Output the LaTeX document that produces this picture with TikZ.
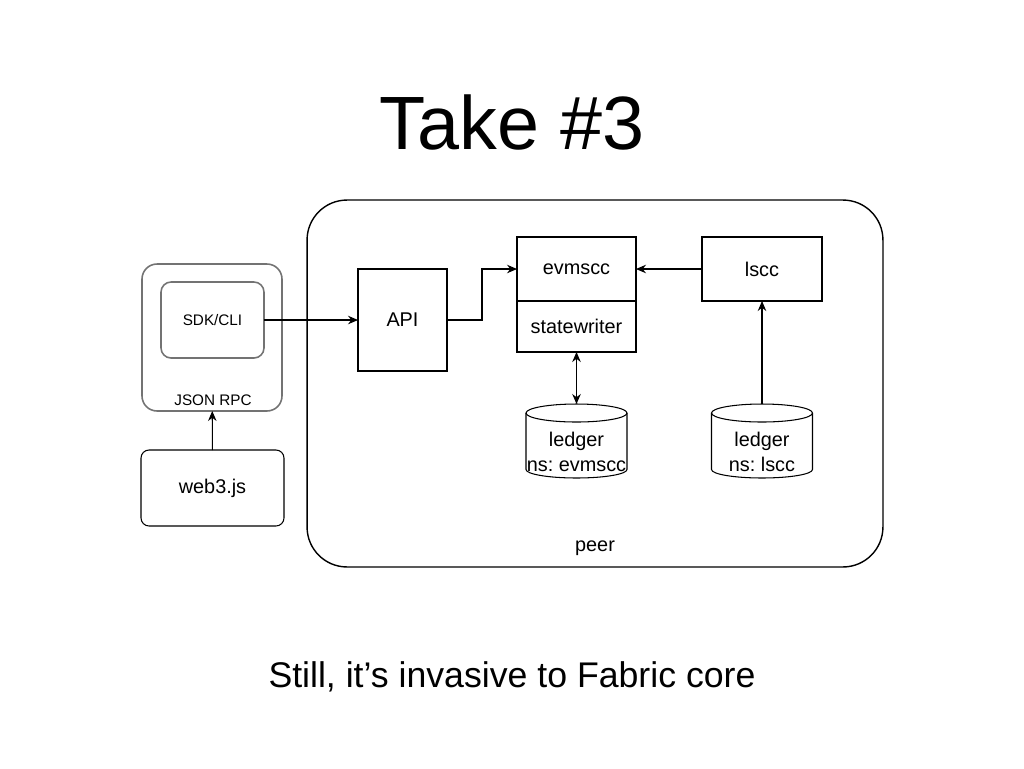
\documentclass[tikz,border=0pt]{standalone}
\usepackage{fontspec}
\setmainfont{Liberation Sans}
\frenchspacing
\usetikzlibrary{arrows.meta}
\definecolor{boxgray}{gray}{0.45}

\begin{document}
\begin{tikzpicture}[x=0.02cm, y=-0.02cm,
    every node/.style={inner sep=0pt, outer sep=0pt},
    txt/.style={font=\fontsize{11.3}{14}\selectfont},
    smalltxt/.style={font=\fontsize{8.7}{10}\selectfont},
    blk/.style={draw=black, line width=0.6pt, txt},
    gry/.style={draw=boxgray, line width=0.9pt, smalltxt},
    db/.style={minimum width=2.02cm, minimum height=1.48cm,
        label={[align=center, txt, yshift=-0.22cm]center:#1}},
    arr/.style={-{Stealth[length=0.2cm, width=0.17cm]}, line width=0.6pt}]
    \useasboundingbox (0,0) rectangle (1024,768);

    \node (title) [font=\fontsize{43}{50}\selectfont] at (512, 122) {Take \#3};
    \node (sub) [font=\fontsize{20.3}{24}\selectfont] at (512, 677) {Still, it’s invasive to Fabric core};

    % peer
    \node (peer) [draw, line width=0.8pt, rounded corners=0.8cm, minimum width=11.52cm, minimum height=7.34cm] at (595, 383.5) {};
    \node (peertxt) [txt] at (595, 548) {peer};

    % client side
    \node (rpc) [gry, rounded corners=0.3cm, minimum width=2.8cm, minimum height=2.94cm] at (212, 337.5) {};
    \node (rpctxt) [smalltxt] at (213, 400) {JSON RPC};
    \node (sdk) [gry, rounded corners=0.2cm, minimum width=2.06cm, minimum height=1.52cm] at (212.5, 320) {SDK/CLI};
    \node (web3) [blk, rounded corners=0.16cm, minimum width=2.86cm, minimum height=1.52cm] at (212.5, 488) {web3.js};

    % peer components
    \node (api) [blk, minimum width=1.78cm, minimum height=2.04cm] at (402.5, 320) {API};
    \node (evmscc) [blk, minimum width=2.38cm, minimum height=1.28cm] at (576.5, 269) {evmscc};
    \node (sw) [blk, minimum width=2.38cm, minimum height=1.02cm] at (576.5, 326.5) {statewriter};
    \node (lscc) [blk, minimum width=2.4cm, minimum height=1.28cm] at (762, 269) {lscc};
    \node (ledgerA) [db={ledger\\ns: evmscc}] at (576.5, 441) {};
    \node (ledgerB) [db={ledger\\ns: lscc}] at (762, 441) {};

    % ledger cylinders
    \foreach \n in {ledgerA, ledgerB} {
        \draw[line width=0.6pt] ([yshift=-0.18cm]\n.north west) -- ([yshift=0.17cm]\n.south west)
            arc[start angle=180, end angle=360, x radius=1.01cm, y radius=0.17cm]
            -- ([yshift=-0.18cm]\n.north east);
        \draw[line width=0.6pt] ([yshift=-0.18cm]\n.north) ellipse [x radius=1.01cm, y radius=0.18cm];
    }

    \draw[arr] (web3) -- (rpc);
    \draw[arr] (sdk) -- (api);
    \draw[arr] (api.east) -- ++(35, 0) |- (evmscc.west);
    \draw[arr] (lscc) -- (evmscc);
    \draw[{Stealth[length=0.2cm, width=0.17cm]}-{Stealth[length=0.2cm, width=0.17cm]}, line width=0.6pt] (sw.south) -- (ledgerA.north);
    \draw[arr] (ledgerB.north) -- (lscc.south);
\end{tikzpicture}
\end{document}
